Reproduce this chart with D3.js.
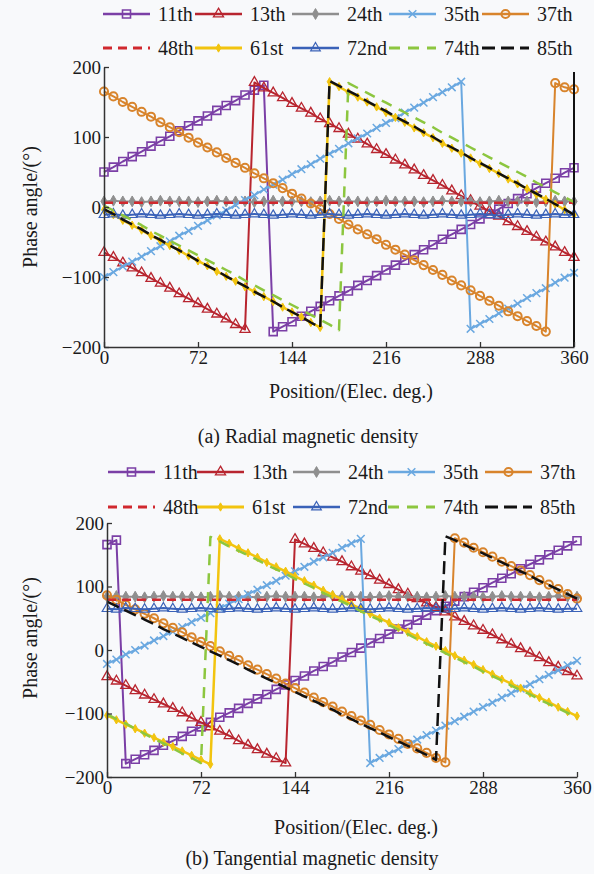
<!DOCTYPE html>
<html><head><meta charset="utf-8">
<script src="https://cdn.jsdelivr.net/npm/d3@7"></script>
<style>
html,body{margin:0;padding:0;background:#f8f9fb;}
svg{display:block;}
text{font-family:"Liberation Serif","Times New Roman",serif;fill:#1a1a1a;}
</style></head><body>
<svg id="chart" width="594" height="874"></svg>
<script>
// ---------------- DATA ----------------
const positions = [0,7.2,14.4,21.6,28.8,36,43.2,50.4,57.6,64.8,72,79.2,86.4,93.6,100.8,108,115.2,122.4,129.6,136.8,144,151.2,158.4,165.6,172.8,180,187.2,194.4,201.6,208.8,216,223.2,230.4,237.6,244.8,252,259.2,266.4,273.6,280.8,288,295.2,302.4,309.6,316.8,324,331.2,338.4,345.6,352.8,360];
const harmonics = ["11th","13th","24th","35th","37th","48th","61st","72nd","74th","85th"];
const xTicks = [0,72,144,216,288,360];
const yTicks = [-200,-100,0,100,200];
const yTickLabels = ["\u2212200","\u2212100","0","100","200"];

// (a) Radial magnetic density – phase angle (deg)
const radial11 = [50,57,65,72,79,87,94,101,109,116,123,130,138,145,152,160,167,174,-178,-171,-164,-156,-149,-142,-134,-127,-120,-112,-105,-98,-90,-83,-76,-68,-61,-54,-46,-39,-32,-25,-17,-10,-3,5,12,19,27,34,41,49,56];
const radial13 = [-65,-72,-80,-87,-94,-102,-109,-116,-124,-131,-138,-146,-153,-160,-168,-175,178,170,163,156,148,141,134,126,119,112,104,97,90,82,75,67,60,53,45,38,31,23,16,9,1,-6,-13,-21,-28,-35,-43,-50,-57,-65,-72];
const radial24 = [8,9,8,8,7,8,9,8,8,8,7,8,9,8,8,8,7,8,9,8,8,8,7,8,9,8,8,8,7,8,9,8,8,8,7,8,9,8,8,8,7,8,9,8,8,8,7,8,9,8,8];
const radial35 = [-100,-93,-85,-78,-71,-63,-56,-49,-41,-34,-27,-19,-12,-5,3,10,17,25,32,39,47,54,61,69,76,83,91,98,105,113,120,127,135,142,149,157,164,171,179,-174,-167,-160,-152,-145,-138,-130,-123,-116,-108,-101,-94];
const radial37 = [165,158,150,143,136,129,121,114,107,99,92,85,78,70,63,56,48,41,34,27,19,12,5,-3,-10,-17,-25,-32,-39,-46,-54,-61,-68,-76,-83,-90,-97,-105,-112,-119,-127,-134,-141,-149,-156,-163,-170,-178,177,171,168];
const radial48 = [6,6,6,6,6,6,6,6,6,6,6,6,6,6,6,6,6,6,6,6,6,6,6,6,6,6,6,6,6,6,6,6,6,6,6,6,6,6,6,6,6,6,6,6,6,6,6,6,6,6,6];
const radial61 = [-4,-11,-19,-26,-33,-41,-48,-55,-62,-70,-77,-84,-92,-99,-106,-114,-121,-128,-135,-143,-150,-157,-165,-172,179,172,164,157,150,143,135,128,121,113,106,99,91,84,77,70,62,55,48,40,33,26,18,11,4,-4,-11];
const radial72 = [-11,-10,-12,-11,-10,-11,-12,-11,-10,-11,-12,-11,-10,-11,-12,-11,-10,-11,-12,-11,-10,-11,-12,-11,-10,-11,-12,-11,-10,-11,-12,-11,-10,-11,-12,-11,-10,-11,-12,-11,-10,-11,-12,-11,-10,-11,-12,-11,-10,-11,-11];
const radial74 = [2,-5,-12,-19,-26,-34,-41,-48,-55,-62,-69,-76,-83,-90,-97,-105,-112,-119,-126,-133,-140,-147,-154,-161,-168,-176,177,170,163,156,149,142,135,128,121,114,106,99,92,85,78,71,64,57,50,43,35,28,21,14,7];
const radial85 = [-3,-10,-18,-25,-32,-40,-47,-55,-62,-69,-77,-84,-91,-99,-106,-113,-121,-128,-135,-143,-150,-157,-165,-172,180,173,166,159,151,144,137,129,122,115,107,100,92,85,78,70,63,56,48,41,34,26,19,12,4,-3,-11];
const radial85EdgePos = [360,360];
const radial85Edge = [-200,193];

// (b) Tangential magnetic density – phase angle (deg)
const tang11 = [166,173,-179,-172,-165,-158,-150,-143,-136,-128,-121,-114,-106,-99,-92,-84,-77,-70,-62,-55,-48,-41,-33,-26,-19,-11,-4,3,11,18,25,33,40,47,55,62,69,77,84,91,98,106,113,120,128,135,142,150,157,164,172];
const tang13 = [-42,-49,-56,-64,-71,-78,-85,-92,-99,-107,-114,-121,-128,-135,-143,-150,-157,-164,-171,-178,174,167,160,153,146,139,131,124,117,110,103,95,88,81,74,67,60,52,45,38,31,24,16,9,2,-5,-12,-20,-27,-34,-41];
const tang24 = [84,85,84,84,83,84,85,84,84,84,83,84,85,84,84,84,83,84,85,84,84,84,83,84,85,84,84,84,83,84,85,84,84,84,83,84,85,84,84,84,83,84,85,84,84,84,83,84,85,84,84];
const tang35 = [-22,-15,-7,0,7,15,22,29,36,44,51,58,66,73,80,88,95,102,109,117,124,131,139,146,153,161,168,175,-178,-170,-163,-156,-148,-141,-134,-127,-119,-112,-105,-97,-90,-83,-75,-68,-61,-54,-46,-39,-32,-24,-17];
const tang37 = [86,79,71,64,57,50,42,35,28,20,13,6,-2,-9,-16,-24,-31,-38,-45,-53,-60,-67,-75,-82,-89,-97,-104,-111,-118,-126,-133,-140,-148,-155,-162,-170,-177,176,169,161,154,147,139,132,125,118,110,103,96,88,81];
const tang48 = [79,79,79,79,79,79,79,79,79,79,79,79,79,79,79,79,79,79,79,79,79,79,79,79,79,79,79,79,79,79,79,79,79,79,79,79,79,79,79,79,79,79,79,79,79,79,79,79,79,79,79];
const tang61 = [-103,-110,-117,-124,-131,-138,-145,-152,-159,-166,-173,-180,175,168,160,153,146,138,131,124,116,109,102,94,87,80,72,65,57,50,43,35,28,21,13,6,-1,-9,-16,-23,-31,-38,-46,-53,-60,-68,-75,-82,-90,-97,-104];
const tang72 = [65,64,66,65,64,65,66,65,64,65,66,65,64,65,66,65,64,65,66,65,64,65,66,65,64,65,66,65,64,65,66,65,64,65,66,65,64,65,66,65,64,65,66,65,64,65,66,65,64,65,65];
const tang74 = [-101,-109,-116,-124,-132,-140,-147,-155,-163,-170,-178,178,171,163,156,149,142,134,127,120,112,105,98,90,83,76,69,61,54,47,39,32,25,17,10,3,-5,-12,-19,-26,-34,-41,-48,-56,-63,-70,-78,-85,-92,-99,-107];
const tang85 = [76,69,62,55,48,41,33,26,19,12,5,-2,-9,-16,-23,-31,-38,-45,-52,-59,-66,-73,-80,-87,-94,-102,-109,-116,-123,-130,-137,-144,-151,-158,-165,-173,179,173,166,159,152,145,138,131,124,117,109,102,95,88,81];

// ---------------- STYLES ----------------
const symX = d3.symbolX || d3.symbolCross;
const style = {
  "11th": {color:"#7b3fa6", width:2, symbol:d3.symbolSquare, size:64, fill:"none", sw:1.6},
  "13th": {color:"#b8252f", width:2, symbol:d3.symbolTriangle, size:44, fill:"none", sw:1.3},
  "24th": {color:"#8f8f8f", width:2, symbol:d3.symbolDiamond, size:34, fill:"#8f8f8f", sw:1},
  "35th": {color:"#6aa8e0", width:2, symbol:symX, size:40, fill:"none", sw:1.5},
  "37th": {color:"#d8842c", width:2, symbol:d3.symbolCircle, size:52, fill:"none", sw:2},
  "48th": {color:"#d0282e", width:2.5, dash:"9,6"},
  "61st": {color:"#f2c40f", width:2.5, symbol:d3.symbolDiamond, size:20, fill:"#f2c40f", sw:1},
  "72nd": {color:"#3a62b8", width:2, symbol:d3.symbolTriangle, size:40, fill:"none", sw:1.2},
  "74th": {color:"#8cc63f", width:2.5, dash:"11,8"},
  "85th": {color:"#111111", width:2.5, dash:"13,6"}
};

const svg = d3.select("#chart");
svg.append("rect").attr("width",594).attr("height",874).attr("fill","#f8f9fb");

function drawPanel(cfg) {
  const x = d3.scaleLinear().domain([0,360]).range([cfg.left, cfg.right]);
  const y = d3.scaleLinear().domain([-200,200]).range([cfg.bottom, cfg.top]);
  const g = svg.append("g");

  // series
  const line = d3.line().x(d=>x(d[0])).y(d=>y(d[1]));
  harmonics.forEach(h => {
    const st = style[h];
    const pts = positions.map((p,i)=>[p, cfg.data[h][i]]);
    g.append("path").attr("d", line(pts)).attr("fill","none")
      .attr("stroke", st.color).attr("stroke-width", st.width)
      .attr("stroke-dasharray", st.dash || null).attr("stroke-linejoin","round");
    if (cfg.extra && cfg.extra[h]) {
      const e = cfg.extra[h];
      g.append("path").attr("d", line(e.pos.map((p,i)=>[p, e.vals[i]]))).attr("fill","none")
        .attr("stroke", st.color).attr("stroke-width", 2);
    }
    if (st.symbol) {
      const sym = d3.symbol().type(st.symbol).size(st.size);
      g.append("g").selectAll("path").data(pts).join("path")
        .attr("transform", d=>`translate(${x(d[0])},${y(d[1])})`)
        .attr("d", sym())
        .attr("fill", st.fill).attr("stroke", st.color).attr("stroke-width", st.sw);
    }
  });

  // axes
  const ax = g.append("g").attr("transform",`translate(0,${cfg.bottom})`)
    .call(d3.axisBottom(x).tickValues(xTicks).tickSizeInner(-5).tickSizeOuter(0).tickPadding(3));
  const ay = g.append("g").attr("transform",`translate(${cfg.left},0)`)
    .call(d3.axisLeft(y).tickValues(yTicks).tickSizeInner(-5).tickSizeOuter(0).tickPadding(3)
      .tickFormat((d,i)=>yTickLabels[i]));
  [ax, ay].forEach(a => {
    a.select(".domain").attr("stroke","#333").attr("stroke-width",1.5);
    a.selectAll(".tick line").attr("stroke","#333").attr("stroke-width",1.3);
    a.selectAll(".tick text").attr("font-size",19).attr("font-family","Liberation Serif").attr("fill","#1a1a1a");
  });

  // labels
  g.append("text").attr("transform",`translate(${cfg.yLabelX},${cfg.yLabelY}) rotate(-90)`)
    .attr("text-anchor","middle").attr("dy","0.35em").attr("font-size",20).text("Phase angle/(\u00b0)");
  g.append("text").attr("x",cfg.xLabelX).attr("y",cfg.xLabelY).attr("text-anchor","middle")
    .attr("dy","0.35em").attr("font-size",20).text("Position/(Elec. deg.)");
  g.append("text").attr("x",cfg.capX).attr("y",cfg.capY).attr("text-anchor","middle")
    .attr("dy","0.35em").attr("font-size",20).text(cfg.caption);

  // legend
  harmonics.forEach((h,i) => {
    const st = style[h];
    const row = Math.floor(i/5), col = i%5;
    const lx = cfg.legX[col], ly = cfg.legY[row];
    const lg = g.append("g");
    lg.append("line").attr("x1",lx).attr("x2",lx+47).attr("y1",ly).attr("y2",ly)
      .attr("stroke",st.color).attr("stroke-width",st.width+0.5).attr("stroke-dasharray", st.dash || null);
    if (st.symbol) {
      lg.append("path").attr("transform",`translate(${lx+23.5},${ly})`)
        .attr("d", d3.symbol().type(st.symbol).size(st.size)())
        .attr("fill", st.fill).attr("stroke", st.color).attr("stroke-width", st.sw);
    }
    lg.append("text").attr("x",lx+55).attr("y",ly).attr("dy","0.35em").attr("font-size",20).text(h);
  });
}

drawPanel({
  left:104, right:574, top:67, bottom:347,
  data:{"11th":radial11,"13th":radial13,"24th":radial24,"35th":radial35,"37th":radial37,
        "48th":radial48,"61st":radial61,"72nd":radial72,"74th":radial74,"85th":radial85},
  extra:{"85th":{pos:radial85EdgePos, vals:radial85Edge}},
  yLabelX:30, yLabelY:207, xLabelX:351, xLabelY:391, capX:308, capY:436,
  caption:"(a) Radial magnetic density",
  legX:[103,195,292,389,482], legY:[14,48]
});
drawPanel({
  left:107, right:577, top:523, bottom:777,
  data:{"11th":tang11,"13th":tang13,"24th":tang24,"35th":tang35,"37th":tang37,
        "48th":tang48,"61st":tang61,"72nd":tang72,"74th":tang74,"85th":tang85},
  yLabelX:30, yLabelY:638, xLabelX:356, xLabelY:827, capX:312, capY:858,
  caption:"(b) Tangential magnetic density",
  legX:[108,197,293,388,485], legY:[472,507]
});
</script>
</body></html>
